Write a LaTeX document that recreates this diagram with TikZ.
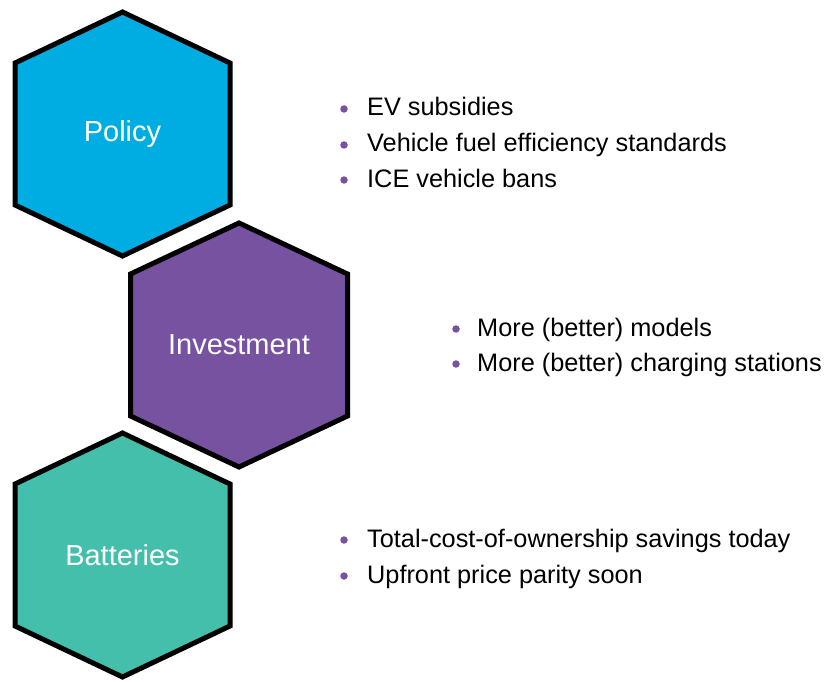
\documentclass[tikz,border=0pt]{standalone}
\usepackage{fontspec}
\setmainfont{Liberation Sans}
\definecolor{polblue}{RGB}{0,173,226}
\definecolor{invpurple}{RGB}{118,82,160}
\definecolor{batteal}{RGB}{68,191,172}
\tikzset{
  hexborder/.style={draw=black, line width=5pt, line join=miter},
  hexlabel/.style={text=white, font=\fontsize{29}{33}\selectfont, inner sep=0pt},
  bullettext/.style={anchor=base west, inner sep=0pt, font=\fontsize{25.3}{29}\selectfont, text=black},
  bulletdot/.style={circle, fill=invpurple, inner sep=0pt, minimum size=7.5pt}
}
\begin{document}
\begin{tikzpicture}[x=1pt, y=-1pt]
\useasboundingbox (0,0) rectangle (827,682);
% hexagons
\draw[hexborder, fill=polblue] (122.5,12) -- ++(107.5,51) -- ++(0,142) -- ++(-107.5,51) -- ++(-107.5,-51) -- ++(0,-142) -- cycle;
\draw[hexborder, fill=invpurple] (239,223) -- ++(108.5,51) -- ++(0,142) -- ++(-108.5,51) -- ++(-108.5,-51) -- ++(0,-142) -- cycle;
\draw[hexborder, fill=batteal] (122.5,433) -- ++(107.5,51) -- ++(0,142) -- ++(-107.5,51) -- ++(-107.5,-51) -- ++(0,-142) -- cycle;
\node[hexlabel] (policy) at (122.5,134) {Policy};
\node[hexlabel] (invest) at (239,345) {Investment};
\node[hexlabel] (batt) at (122.5,555) {Batteries};
% policy bullets
\node[bulletdot] (d1) at (344,109) {};
\node[bullettext] (t1) at (367,116) {EV subsidies};
\node[bulletdot] (d2) at (344,145) {};
\node[bullettext] (t2) at (367,152) {Vehicle fuel efficiency standards};
\node[bulletdot] (d3) at (344,180) {};
\node[bullettext] (t3) at (367,187) {ICE vehicle bans};
% investment bullets
\node[bulletdot] (d4) at (456,329) {};
\node[bullettext] (t4) at (477,336) {More (better) models};
\node[bulletdot] (d5) at (456,364) {};
\node[bullettext] (t5) at (477,371) {More (better) charging stations};
% battery bullets
\node[bulletdot] (d6) at (344,540) {};
\node[bullettext] (t6) at (367,547) {Total-cost-of-ownership savings today};
\node[bulletdot] (d7) at (344,576) {};
\node[bullettext] (t7) at (367,583) {Upfront price parity soon};
\end{tikzpicture}
\end{document}
